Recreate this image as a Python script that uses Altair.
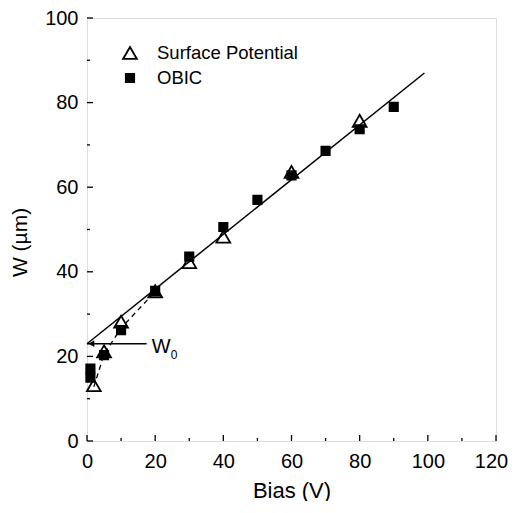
import altair as alt
import pandas as pd

# --- data ---
sp_bias = [2, 5, 10, 20, 30, 40, 60, 80]
sp_w = [13.2, 21.2, 28.2, 35.4, 42.3, 48.3, 63.6, 75.7]

obic_bias = [1, 1, 5, 10, 20, 30, 40, 50, 60, 70, 80, 90]
obic_w = [15.0, 17.1, 20.3, 26.2, 35.5, 43.6, 50.6, 57.0, 62.8, 68.6, 73.7, 79.0]

fit_bias = [0, 99]
fit_w = [23.0, 87.0]

dash_bias = [2, 5, 10, 20]
dash_w = [12.8, 20.5, 26.7, 35.3]

arrow_bias = [0, 17.5]
arrow_w = [23.0, 23.0]

x_major = [0, 20, 40, 60, 80, 100, 120]
x_minor = [10, 30, 50, 70, 90, 110]
y_major = [0, 20, 40, 60, 80, 100]
y_minor = [10, 30, 50, 70, 90]

series_names = ["Surface Potential", "OBIC"]
series_shapes = ["triangle-up", "square"]
series_fills = ["transparent", "black"]
series_sizes = [190, 70]

FONT = "Liberation Sans"
W, H = 409, 423

pts = pd.DataFrame(
    {"bias": sp_bias + obic_bias,
     "w": sp_w + obic_w,
     "series": [series_names[0]] * len(sp_bias) + [series_names[1]] * len(obic_bias)}
)

xs = alt.Scale(domain=[0, 120], nice=False, zero=False)
ys = alt.Scale(domain=[0, 100], nice=False, zero=False)

xax = alt.Axis(values=x_major, ticks=False, domain=False, grid=False, labelFont=FONT,
               labelFontSize=20, labelColor="black", labelPadding=10, title="Bias (V)",
               labelOffset={"condition": {"test": "datum.value == 120", "value": -5}, "value": 0},
               titleFont=FONT, titleFontSize=22, titleFontWeight="normal", titleColor="black",
               titleY=56, titleBaseline="alphabetic", labelFlush=False)
yax = alt.Axis(values=y_major, ticks=False, domain=False, grid=False, labelFont=FONT,
               labelFontSize=20, labelColor="black", labelPadding=9, title="W (µm)",
               titleFont=FONT, titleFontSize=21, titleFontWeight="normal", titleColor="black",
               titleX=-61, titleY=224, titleBaseline="alphabetic", titleAlign="center",
               titleAngle=270, labelFlush=False)

fit = alt.Chart(pd.DataFrame({"bias": fit_bias, "w": fit_w})).mark_line(
    color="black", strokeWidth=1.5).encode(
    x=alt.X("bias:Q", scale=xs, axis=xax), y=alt.Y("w:Q", scale=ys, axis=yax))

dash = alt.Chart(pd.DataFrame({"bias": dash_bias, "w": dash_w})).mark_line(
    color="black", strokeWidth=1.3, strokeDash=[5, 4]).encode(
    x=alt.X("bias:Q", scale=xs), y=alt.Y("w:Q", scale=ys))

arrow_line = alt.Chart(pd.DataFrame({"bias": arrow_bias, "w": arrow_w})).mark_line(
    color="black", strokeWidth=1.5).encode(
    x=alt.X("bias:Q", scale=xs), y=alt.Y("w:Q", scale=ys))

arrow_head = alt.Chart(pd.DataFrame({"bias": [1.3], "w": [23.0]})).mark_point(
    shape="triangle-left", filled=True, color="black", size=45, opacity=1).encode(
    x=alt.X("bias:Q", scale=xs), y=alt.Y("w:Q", scale=ys))

w0 = alt.Chart(pd.DataFrame({"bias": [19.0], "w": [20.7], "t": ["W"]})).mark_text(
    font=FONT, fontSize=20, align="left", baseline="alphabetic", color="black").encode(
    x=alt.X("bias:Q", scale=xs), y=alt.Y("w:Q", scale=ys), text="t:N")
w0sub = alt.Chart(pd.DataFrame({"bias": [24.6], "w": [19.3], "t": ["0"]})).mark_text(
    font=FONT, fontSize=12, align="left", baseline="alphabetic", color="black").encode(
    x=alt.X("bias:Q", scale=xs), y=alt.Y("w:Q", scale=ys), text="t:N")

shape_scale = alt.Scale(domain=series_names, range=series_shapes)
fill_scale = alt.Scale(domain=series_names, range=series_fills)
size_scale = alt.Scale(domain=series_names, range=series_sizes)

points = alt.Chart(pts).mark_point(opacity=1, strokeWidth=1.8, stroke="black").encode(
    x=alt.X("bias:Q", scale=xs),
    y=alt.Y("w:Q", scale=ys),
    shape=alt.Shape("series:N", scale=shape_scale, legend=None),
    fill=alt.Fill("series:N", scale=fill_scale, legend=None),
    size=alt.Size("series:N", scale=size_scale, legend=None),
)

# manual legend (one row per series)
legend_layers = []
for i, name in enumerate(series_names):
    row_y = 35 + 25 * i
    legend_layers.append(
        alt.Chart(pd.DataFrame({"series": [name]})).mark_point(
            opacity=1, strokeWidth=1.8, stroke="black").encode(
            x=alt.value(43), y=alt.value(row_y),
            shape=alt.Shape("series:N", scale=shape_scale, legend=None),
            fill=alt.Fill("series:N", scale=fill_scale, legend=None),
            size=alt.Size("series:N", scale=size_scale, legend=None)))
    legend_layers.append(
        alt.Chart(pd.DataFrame({"series": [name]})).mark_text(
            font=FONT, fontSize=18.5, align="left", baseline="middle", color="black").encode(
            x=alt.value(70), y=alt.value(row_y), text="series:N"))

xt_major = alt.Chart(pd.DataFrame({"v": x_major})).mark_rule(color="black", strokeWidth=1.3).encode(
    x=alt.X("v:Q", scale=xs), y=alt.value(H), y2=alt.value(H - 6))
xt_minor = alt.Chart(pd.DataFrame({"v": x_minor})).mark_rule(color="black", strokeWidth=1.3).encode(
    x=alt.X("v:Q", scale=xs), y=alt.value(H), y2=alt.value(H - 3))
yt_major = alt.Chart(pd.DataFrame({"v": y_major})).mark_rule(color="black", strokeWidth=1.3).encode(
    y=alt.Y("v:Q", scale=ys), x=alt.value(0), x2=alt.value(6))
yt_minor = alt.Chart(pd.DataFrame({"v": y_minor})).mark_rule(color="black", strokeWidth=1.3).encode(
    y=alt.Y("v:Q", scale=ys), x=alt.value(0), x2=alt.value(3))

chart = alt.layer(fit, dash, arrow_line, arrow_head, w0, w0sub, points, *legend_layers,
                  xt_major, xt_minor, yt_major, yt_minor).properties(
    width=W, height=H,
    autosize=alt.AutoSizeParams(type="none"),
    padding={"left": 79, "top": 10, "right": 12, "bottom": 60},
).configure_view(stroke="black", strokeWidth=1.6).configure(background="white")

chart.save("out.html", embed_options={"renderer": "svg", "actions": False})
